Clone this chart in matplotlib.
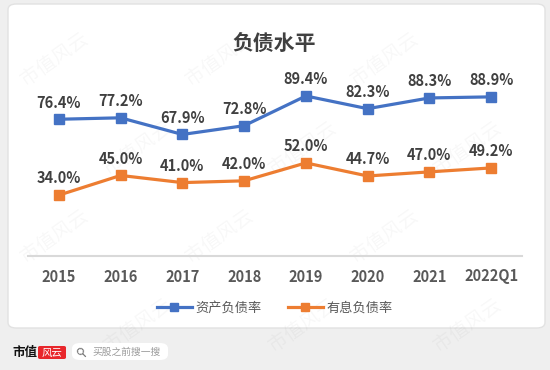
import matplotlib
matplotlib.use("Agg")
import matplotlib.pyplot as plt
from matplotlib.patches import FancyBboxPatch

plt.rcParams['font.family'] = ['Noto Sans CJK SC', 'DejaVu Sans']

# data
years = ['2015', '2016', '2017', '2018', '2019', '2020', '2021', '2022Q1']
asset_ratio = [76.4, 77.2, 67.9, 72.8, 89.4, 82.3, 88.3, 88.9]
interest_ratio = [34.0, 45.0, 41.0, 42.0, 52.0, 44.7, 47.0, 49.2]

BLUE = '#4472C4'
ORANGE = '#ED7D31'
TXT = '#404040'

fig = plt.figure(figsize=(5.5, 3.7), dpi=100, facecolor='#efefef')

# white card
card = FancyBboxPatch((8 / 550, 42 / 370), 537 / 550, 324 / 370,
                      boxstyle='round,pad=0,rounding_size=0.015',
                      transform=fig.transFigure, facecolor='white',
                      edgecolor='#e2e2e2', linewidth=1.0, zorder=0)
fig.patches.append(card)

# faint watermark
for row, yy in enumerate([0.84, 0.60, 0.36, 0.12]):
    for xx in [0.10, 0.40, 0.70]:
        fig.text(xx + (0.15 if row % 2 else 0), yy, '市值风云', rotation=35,
                 fontsize=14, color='#000000', alpha=0.03,
                 ha='center', va='center', zorder=0.5)

ax = fig.add_axes([28 / 550, 114 / 370, 494 / 550, 179 / 370])
ax.set_zorder(2)
ax.set_facecolor('none')
x = range(len(years))

ax.plot(x, asset_ratio, color=BLUE, lw=2.3, marker='s', ms=7, label='资产负债率')
ax.plot(x, interest_ratio, color=ORANGE, lw=2.3, marker='s', ms=7, label='有息负债率')

for i in x:
    ax.annotate(f'{asset_ratio[i]:.1f}%', (i, asset_ratio[i]), xytext=(0, 12),
                textcoords='offset points', ha='center', va='center',
                fontsize=10.5, fontweight='bold', color=TXT)
    ax.annotate(f'{interest_ratio[i]:.1f}%', (i, interest_ratio[i]), xytext=(0, 12),
                textcoords='offset points', ha='center', va='center',
                fontsize=10.5, fontweight='bold', color=TXT)

ax.set_xlim(-0.5, len(years) - 0.5)
ax.set_ylim(0, 100)
ax.set_xticks(list(x))
ax.set_xticklabels(years, fontsize=10.5, fontweight='bold', color='#595959')
ax.tick_params(axis='x', length=0, pad=9)
ax.set_yticks([])
for s in ['top', 'left', 'right']:
    ax.spines[s].set_visible(False)
ax.spines['bottom'].set_color('#d9d9d9')
ax.spines['bottom'].set_linewidth(1.5)

fig.text(0.498, 0.884, '负债水平', ha='center', va='center',
         fontsize=15, fontweight='bold', color=TXT)

leg = fig.legend(loc='center', bbox_to_anchor=(0.5, 0.168), ncol=2, frameon=False,
                 fontsize=9.5, labelcolor='#595959', handlelength=2.6,
                 columnspacing=2.0, handletextpad=0.3, markerscale=0.9)
leg.set_zorder(3)

# footer
fig.text(12 / 550, 1 - 352 / 370, '市值', fontsize=9, fontweight='bold',
         color='#111111', va='center', ha='left', family=['Noto Sans CJK SC'])
logo = FancyBboxPatch((38 / 550, 1 - 359 / 370), 28 / 550, 13 / 370,
                      boxstyle='round,pad=0,rounding_size=0.004',
                      transform=fig.transFigure, facecolor='#e8262b',
                      edgecolor='none')
fig.patches.append(logo)
fig.text(52 / 550, 1 - 352.5 / 370, '风云', fontsize=7.5, color='white',
         style='italic', ha='center', va='center')
pill = FancyBboxPatch((72 / 550, 1 - 360 / 370), 96 / 550, 17 / 370,
                      boxstyle='round,pad=0,rounding_size=0.015',
                      transform=fig.transFigure, facecolor='white',
                      edgecolor='none')
fig.patches.append(pill)
fig.text(82 / 550, 1 - 352 / 370, '⚲', fontsize=9, color='#777777',
         ha='center', va='center', rotation=45, family=['DejaVu Sans'])
fig.text(92 / 550, 1 - 352 / 370, '买股之前搜一搜', fontsize=7, color='#9a9a9a',
         ha='left', va='center')

fig.savefig('out.png', dpi=100, facecolor=fig.get_facecolor())
